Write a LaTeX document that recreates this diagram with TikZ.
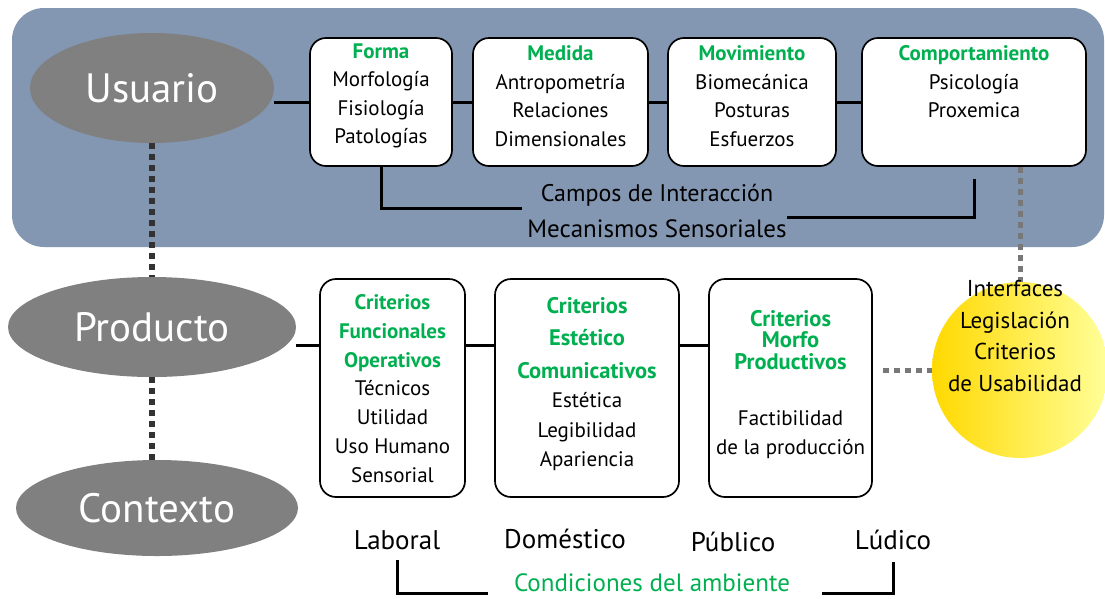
\documentclass[tikz,border=0pt]{standalone}
\usepackage{fontspec}
\setmainfont{PT Sans}
\usetikzlibrary{shapes.geometric}
\definecolor{panelblue}{RGB}{131,151,178}
\definecolor{ovalgray}{RGB}{128,128,128}
\definecolor{grn}{RGB}{0,176,80}
\definecolor{dotdark}{RGB}{50,50,50}
\definecolor{dotgray}{RGB}{120,120,120}
\begin{document}
\begin{tikzpicture}[x=1pt,y=-1pt,
  oval/.style={ellipse, fill=ovalgray, text=white, inner sep=0, font=\fontsize{41}{44}\selectfont},
  boxnode/.style={draw=black, line width=1.7pt, rounded corners=16pt, fill=white, inner sep=0},
  txt/.style={align=center, inner sep=0, font=\fontsize{21}{28.5}\selectfont},
  link/.style={line width=3pt},
  ddots/.style={draw=dotdark, line width=6pt, dash pattern=on 6pt off 5pt},
  gdots/.style={draw=dotgray, line width=5pt, dash pattern=on 6pt off 5pt},
  lbl/.style={inner sep=0, font=\fontsize{27}{30}\selectfont}
]
\useasboundingbox (0,0) rectangle (1105,598);
% panel
\fill[panelblue, rounded corners=32pt] (12,8) rectangle (1104,247);

% ovals
\node[oval, minimum width=244, minimum height=110] (usuario) at (152,88) {Usuario};
\node[oval, minimum width=288, minimum height=100] (producto) at (152,327) {Producto};
\node[oval, minimum width=282, minimum height=96] (contexto) at (157,508) {Contexto};

% dotted vertical
\draw[ddots] (usuario.south) -- (usuario.south |- producto.north);
\draw[ddots] (producto.south) -- (producto.south |- contexto.north);

% top boxes
\node[boxnode, minimum width=142, minimum height=128] (forma) at (381,102) {};
\node[boxnode, minimum width=175, minimum height=128] (medida) at (560.5,102) {};
\node[boxnode, minimum width=168, minimum height=128] (movim) at (752,102) {};
\node[boxnode, minimum width=224, minimum height=128] (comp) at (974,102) {};

\node[txt] (formaT) at (381,96) {{\color{grn}\bfseries Forma}\\Morfología\\Fisiología\\Patologías};
\node[txt] (medidaT) at (560.5,96) {{\color{grn}\bfseries Medida}\\Antropometría\\Relaciones\\Dimensionales};
\node[txt] (movimT) at (752,96) {{\color{grn}\bfseries Movimiento}\\Biomecánica\\Posturas\\Esfuerzos};
\node[txt] (compT) at (974,82) {{\color{grn}\bfseries Comportamiento}\\Psicología\\Proxemica};

\draw[link] (forma.west) -- (forma.west -| usuario.east);
\draw[link] (forma.east) -- (medida.west);
\draw[link] (medida.east) -- (movim.west);
\draw[link] (movim.east) -- (comp.west);

% campos bracket
\coordinate (campL) at (522,208);
\coordinate (campR) at (787,217);
\draw[link] (forma.south) |- (campL);
\draw[link] ([yshift=-12pt]comp.south) |- (campR);
\node[lbl, font=\fontsize{24}{28}\selectfont] (campos) at (657,195) {Campos de Interacción};
\node[lbl, font=\fontsize{25}{28}\selectfont] (mecan) at (657,229) {Mecanismos Sensoriales};

% yellow circle
\node[circle, minimum size=176, inner sep=0, left color=yellow!70!orange, right color=yellow!40!white, shading angle=90] (circ) at (1020,370) {};
\draw[gdots] (comp.south -| circ) -- (circ.north);
\node[txt, font=\fontsize{23}{31.5}\selectfont] (circT) at (1015,336) {Interfaces\\Legislación\\Criterios\\de Usabilidad};

% middle boxes
\node[boxnode, minimum width=145, minimum height=218] (b1) at (392.5,388) {};
\node[boxnode, minimum width=184, minimum height=218] (b2) at (587,388) {};
\node[boxnode, minimum width=163, minimum height=218] (b3) at (790.5,388) {};

\draw[link] ([yshift=43pt]b1.west) -- ([yshift=43pt]b1.west -| producto.east);
\draw[link] ([yshift=43pt]b1.east) -- ([yshift=43pt]b2.west);
\draw[link] ([yshift=43pt]b2.east) -- ([yshift=43pt]b3.west);
\draw[gdots] ([xshift=10pt]b3.east |- circ.west) -- (circ.west);

\node[txt, font=\fontsize{21}{28.8}\selectfont] (b1T) at (392.5,388.5)
  {{\color{grn}\bfseries Criterios}\\{\color{grn}\bfseries Funcionales}\\{\color{grn}\bfseries Operativos}\\Técnicos\\Utilidad\\Uso Humano\\Sensorial};
\node[txt, font=\fontsize{22.5}{32.5}\selectfont\bfseries, text=grn] (b2G) at (587,338) {Criterios\\Estético\\Comunicativos};
\node[txt, font=\fontsize{21}{29.5}\selectfont] (b2T) at (587,432) {Estética\\Legibilidad\\Apariencia};
\node[txt, font=\fontsize{22.5}{21.5}\selectfont\bfseries, text=grn] (b3G) at (790.5,340) {Criterios\\Morfo\\Productivos};
\node[txt, font=\fontsize{21}{29}\selectfont] (b3T) at (790.5,434.5) {Factibilidad\\de la producción};

% bottom labels
\node[lbl] (laboral) at (397,540) {Laboral};
\node[lbl] (domest) at (565,539) {Doméstico};
\node[lbl] (publico) at (733,542) {Público};
\node[lbl] (ludico) at (893,540) {Lúdico};
\node[lbl, text=grn, font=\fontsize{25}{28}\selectfont] (cond) at (652,583) {Condiciones del ambiente};
\coordinate (condL) at (488,593);
\coordinate (condR) at (822,593);
\draw[link] ([yshift=-10pt]laboral.south) |- (condL);
\draw[link] ([yshift=-12pt]ludico.south) |- (condR);
\end{tikzpicture}
\end{document}
